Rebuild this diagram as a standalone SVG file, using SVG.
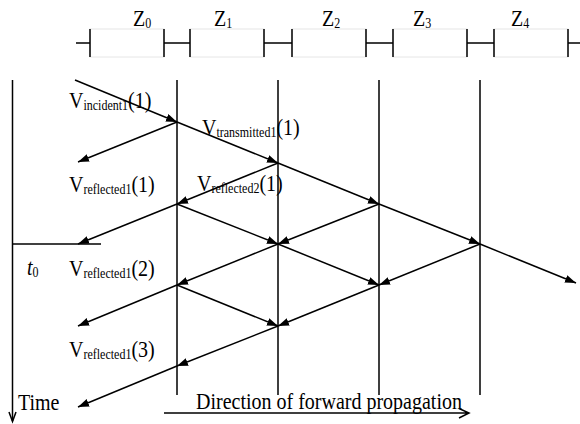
<svg xmlns="http://www.w3.org/2000/svg" width="580" height="424" viewBox="0 0 580 424">
<style>
.t{font-family:"Liberation Serif","Times New Roman",serif;font-size:20px;fill:#000}
.s{font-size:12px}
.ln{stroke:#000;stroke-width:1.5;fill:none}
.ar{stroke:#000;stroke-width:1.5;fill:none;marker-end:url(#ah)}
.box{fill:none;stroke:#e6e6e6;stroke-width:1}
</style>
<defs>
<marker id="ah" markerUnits="userSpaceOnUse" markerWidth="12" markerHeight="10" refX="11" refY="4" orient="auto">
<path d="M0,0 L11,4 L0,8 Z" fill="#000"/>
</marker>
</defs>
<rect width="580" height="424" fill="#fff"/>
<g id="impedance-bar">
<rect class="box" x="90" y="29" width="74" height="28"/>
<rect class="box" x="190" y="29" width="74" height="28"/>
<rect class="box" x="292" y="29" width="74" height="28"/>
<rect class="box" x="393" y="29" width="74" height="28"/>
<rect class="box" x="494" y="29" width="74" height="28"/>
<path class="ln" d="M76,43 H90 M90,29 V57 M164,29 V57 M190,29 V57 M164,43 H190 M264,29 V57 M292,29 V57 M264,43 H292 M366,29 V57 M393,29 V57 M366,43 H393 M467,29 V57 M494,29 V57 M467,43 H494 M568,29 V57 M568,43 H580"/>
<text class="t" transform="translate(133,26) scale(1,1.15)">Z<tspan class="s" dy="2">0</tspan></text>
<text class="t" transform="translate(214,26) scale(1,1.15)">Z<tspan class="s" dy="2">1</tspan></text>
<text class="t" transform="translate(322,26) scale(1,1.15)">Z<tspan class="s" dy="2">2</tspan></text>
<text class="t" transform="translate(413,26) scale(1,1.15)">Z<tspan class="s" dy="2">3</tspan></text>
<text class="t" transform="translate(511,26) scale(1,1.15)">Z<tspan class="s" dy="2">4</tspan></text>
</g>
<g id="time-axis">
<path class="ln" d="M12.5,80 V421"/>
<path class="ln" d="M9,412 L12.5,421.5 L16,412"/>
<path class="ln" d="M12.5,244 H101"/>
<text class="t" transform="translate(18,410) scale(1,1.15)">Time</text>
<text class="t" transform="translate(27,275) scale(1,1.15)" font-style="italic">t<tspan class="s" dy="2" font-style="normal">0</tspan></text>
</g>
<g id="interfaces">
<path class="ln" d="M177,80 V395 M278,80 V395 M379,80 V395 M480,80 V395"/>
</g>
<g id="direction">
<path class="ln" d="M164,413 H469 M459,408.5 L469,413 L459,418"/>
<text class="t" transform="translate(196,409) scale(1,1.15)">Direction of forward propagation</text>
</g>
<g id="connectors">
<line class="ar" x1="75" y1="80" x2="177" y2="122"/>
<line class="ar" x1="177" y1="122" x2="278" y2="163"/>
<line class="ar" x1="278" y1="163" x2="379" y2="204"/>
<line class="ar" x1="379" y1="204" x2="480" y2="244"/>
<line class="ar" x1="480" y1="244" x2="576" y2="283"/>
<line class="ar" x1="177" y1="122" x2="78" y2="162"/>
<line class="ar" x1="278" y1="163" x2="177" y2="204"/>
<line class="ar" x1="177" y1="204" x2="78" y2="244"/>
<line class="ar" x1="177" y1="204" x2="278" y2="244"/>
<line class="ar" x1="379" y1="204" x2="278" y2="244"/>
<line class="ar" x1="278" y1="244" x2="177" y2="285"/>
<line class="ar" x1="278" y1="244" x2="379" y2="285"/>
<line class="ar" x1="480" y1="244" x2="379" y2="285"/>
<line class="ar" x1="177" y1="285" x2="78" y2="326"/>
<line class="ar" x1="177" y1="285" x2="278" y2="326"/>
<line class="ar" x1="379" y1="285" x2="278" y2="326"/>
<line class="ar" x1="278" y1="326" x2="177" y2="366"/>
<line class="ar" x1="177" y1="366" x2="78" y2="407"/>
</g>
<g id="labels">
<text class="t" transform="translate(69,108) scale(1,1.15)">V<tspan class="s" dy="2">incident1</tspan><tspan dy="-2">(1)</tspan></text>
<text class="t" transform="translate(202,135) scale(1,1.15)">V<tspan class="s" dy="2">transmitted1</tspan><tspan dy="-2">(1)</tspan></text>
<text class="t" transform="translate(69,192) scale(1,1.15)">V<tspan class="s" dy="2">reflected1</tspan><tspan dy="-2">(1)</tspan></text>
<text class="t" transform="translate(197,191) scale(1,1.15)">V<tspan class="s" dy="2">reflected2</tspan><tspan dy="-2">(1)</tspan></text>
<text class="t" transform="translate(69,276) scale(1,1.15)">V<tspan class="s" dy="2">reflected1</tspan><tspan dy="-2">(2)</tspan></text>
<text class="t" transform="translate(69,357) scale(1,1.15)">V<tspan class="s" dy="2">reflected1</tspan><tspan dy="-2">(3)</tspan></text>
</g>
</svg>
